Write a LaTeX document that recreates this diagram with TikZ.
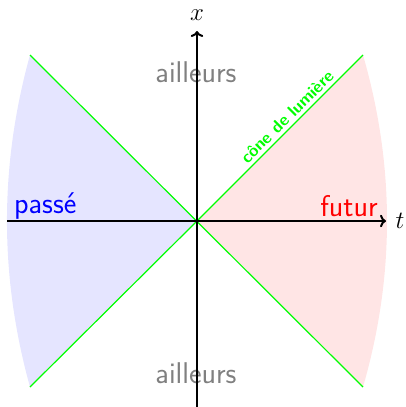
\documentclass[tikz,border=0pt]{standalone}
\usepackage{fontspec}
\usetikzlibrary{arrows.meta}
\tikzset{
  lbl/.style={font=\sffamily\fontsize{30}{36}\selectfont, inner sep=0pt},
  axislbl/.style={font=\fontsize{29}{34}\selectfont, inner sep=0pt},
  axis/.style={line width=2pt, black},
  cone/.style={line width=1.2pt, green},
}
\begin{document}
\begin{tikzpicture}[x=1pt,y=-1pt]
\useasboundingbox (0,0) rectangle (406,407);
\coordinate (O) at (197,221);
\coordinate (TL) at (30,55);
\coordinate (BL) at (30,387);
\coordinate (TR) at (363,55);
\coordinate (BR) at (363,387);
\coordinate (Xs) at (197,407);
\coordinate (Xe) at (197,31);
\coordinate (Ts) at (7,221);
\coordinate (Te) at (386,221);
% regions
\fill[blue!10] (O) -- (TL) .. controls (-0.7,166) and (-0.7,276) .. (BL) -- cycle;
\fill[red!10] (O) -- (TR) .. controls (395,166) and (395,276) .. (BR) -- cycle;
% light cone
\draw[cone] (BL) -- (O) -- (TR) node[pos=0.585, sloped, above=2.5pt, font=\sffamily\bfseries\fontsize{17}{20}\selectfont, inner sep=1pt, text=green] (cl) {cône de lumière};
\draw[cone] (TL) -- (BR);
% labels
\node[lbl, text=gray, anchor=base] (a1) at (196,82) {ailleurs};
\node[lbl, text=gray, anchor=base] (a2) at (196,383) {ailleurs};
\node[lbl, text=blue, anchor=base west] (pa) at (14,213) {passé};
\node[lbl, text=red, anchor=base east] (fu) at (378,216) {futur};
% axes
\draw[axis, ->] (Ts) -- (Te);
\draw[axis, ->] (Xs) -- (Xe);
\node[axislbl, anchor=base] (xl) at (197,20) {$x$};
\node[axislbl, anchor=base] (tl) at (400,228) {$t$};
\end{tikzpicture}
\end{document}
